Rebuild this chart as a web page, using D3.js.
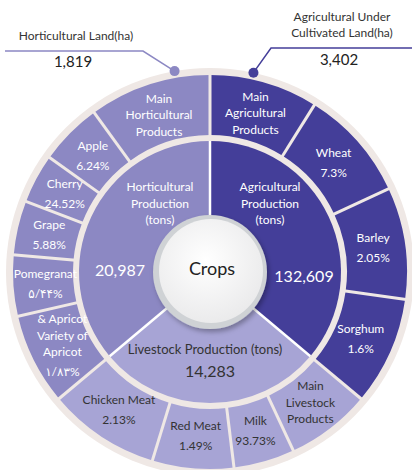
<!DOCTYPE html>
<html>
<head>
<meta charset="utf-8">
<script src="https://cdn.jsdelivr.net/npm/d3@7"></script>
<style>
  body { margin: 0; background: #fff; }
  svg { display: block; font-family: Lato, "DejaVu Sans", sans-serif; }
</style>
</head>
<body>
<div id="vis"></div>
<script>
// ---- data ----
// outer ring, clockwise from 12 o'clock
const OUTER_NAMES = [
  ["Main", "Agricultural", "Products"], ["Wheat"], ["Barley"], ["Sorghum"],
  ["Main", "Livestock", "Products"], ["Milk"], ["Red Meat"], ["Chicken Meat"],
  ["& Apricot", "Variety of", "Apricot"], ["Pomegranat"], ["Grape"], ["Cherry"], ["Apple"],
  ["Main", "Horticultural", "Products"]
];
const OUTER_PCT = ["", "7.3%", "2.05%", "1.6%", "", "93.73%", "1.49%", "2.13%",
                   "۱/۸۳%", "۵/۴۴%", "5.88%", "24.52%", "6.24%", ""];
const OUTER_GROUP = ["agri", "agri", "agri", "agri", "live", "live", "live", "live",
                     "hort", "hort", "hort", "hort", "hort", "hort"];
// angular share of each slice (degrees)
const OUTER_SPAN = [32, 33, 33, 32, 25, 18, 24, 33, 27, 18, 16, 14.5, 18.5, 36];

// inner ring
const INNER_KEYS = ["agri", "live", "hort"];
const INNER_TITLES = [["Agricultural", "Production", "(tons)"],
                      ["Livestock Production (tons)"],
                      ["Horticultural", "Production", "(tons)"]];
const INNER_VALUES = ["132,609", "14,283", "20,987"];
const INNER_SPAN = [130, 100, 130];

// land callouts
const LAND_TITLES = [["Horticultural Land(ha)"], ["Agricultural Under", "Cultivated Land(ha)"]];
const LAND_VALUES = ["1,819", "3,402"];
const LAND_KEYS = ["hort", "agri"];

// ---- layout ----
const WIDTH = 412, HEIGHT = 470;
const CX = 210, CY = 272;
const R = {hub: 50, innerOut: 131, outerIn: 137, outerOut: 197, rim: 204, label: 165};
const COLORS = {agri: "#443e99", hort: "#8c88c3", live: "#a7a4d5"};
const TEXT = {agri: "#ffffff", hort: "#ffffff", live: "#333333"};
const BEIGE = "#efe8e5";

const svg = d3.select("#vis").append("svg")
  .attr("width", WIDTH).attr("height", HEIGHT);

const defs = svg.append("defs");
const grad = defs.append("radialGradient").attr("id", "hubGrad")
  .attr("cx", "45%").attr("cy", "40%").attr("r", "65%");
grad.append("stop").attr("offset", "0%").attr("stop-color", "#ffffff");
grad.append("stop").attr("offset", "100%").attr("stop-color", "#e9e9ea");
const shadow = defs.append("filter").attr("id", "hubShadow")
  .attr("x", "-30%").attr("y", "-30%").attr("width", "160%").attr("height", "160%");
shadow.append("feDropShadow").attr("dx", 2).attr("dy", 3).attr("stdDeviation", 2.5)
  .attr("flood-color", "#000").attr("flood-opacity", 0.3);

const G = svg.append("g").attr("transform", "translate(" + CX + "," + CY + ")");

// beige backdrop (rim + gap between rings)
G.append("circle").attr("r", R.rim).attr("fill", BEIGE);

const pie = d3.pie().sort(null).value(d => d.span).startAngle(0).endAngle(2 * Math.PI);

const outerData = pie(OUTER_SPAN.map((s, i) => ({
  span: s, names: OUTER_NAMES[i], pct: OUTER_PCT[i], group: OUTER_GROUP[i]
})));
const innerData = pie(INNER_SPAN.map((s, i) => ({
  span: s, key: INNER_KEYS[i], titles: INNER_TITLES[i], value: INNER_VALUES[i]
})));

const outerArc = d3.arc().innerRadius(R.outerIn).outerRadius(R.outerOut);
const innerArc = d3.arc().innerRadius(0).outerRadius(R.innerOut);
const labelArc = d3.arc().innerRadius(R.label).outerRadius(R.label);

// outer slices
G.selectAll("path.outer")
  .data(outerData)
  .enter().append("path")
  .attr("class", "outer")
  .attr("d", outerArc)
  .attr("fill", d => COLORS[d.data.group]);

// outer dividers
const polar = (a, r) => [r * Math.sin(a), -r * Math.cos(a)];
G.selectAll("line.outerDiv")
  .data(outerData)
  .enter().append("line")
  .attr("x1", d => polar(d.startAngle, R.outerIn - 2)[0])
  .attr("y1", d => polar(d.startAngle, R.outerIn - 2)[1])
  .attr("x2", d => polar(d.startAngle, R.outerOut + 1)[0])
  .attr("y2", d => polar(d.startAngle, R.outerOut + 1)[1])
  .attr("stroke", BEIGE).attr("stroke-width", 3);

// inner slices
G.selectAll("path.inner")
  .data(innerData)
  .enter().append("path")
  .attr("class", "inner")
  .attr("d", innerArc)
  .attr("fill", d => COLORS[d.data.key]);

G.selectAll("line.innerDiv")
  .data(innerData)
  .enter().append("line")
  .attr("x1", 0).attr("y1", 0)
  .attr("x2", d => polar(d.startAngle, R.innerOut)[0])
  .attr("y2", d => polar(d.startAngle, R.innerOut)[1])
  .attr("stroke", "#ffffff").attr("stroke-width", 2.5);

// outer labels, centred on the slice centroid
const NAME_LH = 16.5, PCT_GAP = 20;
outerData.forEach(d => {
  const c = labelArc.centroid(d);
  const lines = d.data.names.map((t, i) => ({t: t, dy: i * NAME_LH}));
  if (d.data.pct) lines.push({t: d.data.pct, dy: (d.data.names.length - 1) * NAME_LH + PCT_GAP});
  const total = lines[lines.length - 1].dy;
  G.append("text")
    .attr("text-anchor", "middle")
    .attr("font-size", 12)
    .attr("fill", TEXT[d.data.group])
    .selectAll("tspan")
    .data(lines)
    .enter().append("tspan")
    .attr("x", c[0])
    .attr("y", l => c[1] - total / 2 + l.dy + 4)
    .text(l => l.t);
});

// inner labels (title block + value)
const INNER_POS = {
  agri: {title: [60, -81], value: [94, 10]},
  hort: {title: [-50, -81], value: [-90, 4]},
  live: {title: [-5, 82], value: [0, 105]}
};
innerData.forEach(d => {
  const p = INNER_POS[d.data.key];
  G.append("text")
    .attr("text-anchor", "middle")
    .attr("font-size", d.data.key === "live" ? 13 : 12)
    .attr("fill", TEXT[d.data.key])
    .selectAll("tspan")
    .data(d.data.titles)
    .enter().append("tspan")
    .attr("x", p.title[0])
    .attr("y", (t, i) => p.title[1] + i * 16.5)
    .text(t => t);
  G.append("text")
    .attr("x", p.value[0]).attr("y", p.value[1])
    .attr("text-anchor", "middle")
    .attr("font-size", 16)
    .attr("fill", TEXT[d.data.key])
    .text(d.data.value);
});

// hub
G.append("circle").attr("r", 57).attr("fill", "#cfd2d5").attr("filter", "url(#hubShadow)");
G.append("circle").attr("cx", 1).attr("cy", -1).attr("r", 52).attr("fill", "url(#hubGrad)");
G.append("text").attr("x", 2).attr("y", -2)
  .attr("text-anchor", "middle").attr("dominant-baseline", "middle")
  .attr("font-size", 18).attr("fill", "#222").text("Crops");

// land callouts
const CALLOUT = {
  hort: {angle: -10, tx: 76, ty: [40], vy: 67, line: [[5, 51], [143, 51]]},
  agri: {angle: 12.3, tx: 342, ty: [21, 37], vy: 65, line: [[412, 48], [271, 48]]}
};
LAND_KEYS.forEach((k, i) => {
  const c = CALLOUT[k];
  const dot = polar(c.angle * Math.PI / 180, R.rim);
  const pts = c.line.concat([[CX + dot[0], CY + dot[1]]]);
  svg.append("path")
    .attr("d", d3.line()(pts))
    .attr("fill", "none").attr("stroke", COLORS[k]).attr("stroke-width", 1.5);
  svg.append("circle").attr("cx", CX + dot[0]).attr("cy", CY + dot[1]).attr("r", 5)
    .attr("fill", COLORS[k]);
  svg.append("text")
    .attr("text-anchor", "middle").attr("font-size", 12).attr("fill", "#333")
    .selectAll("tspan")
    .data(LAND_TITLES[i])
    .enter().append("tspan")
    .attr("x", c.tx).attr("y", (t, j) => c.ty[j])
    .text(t => t);
  svg.append("text")
    .attr("x", c.tx - 3).attr("y", c.vy)
    .attr("text-anchor", "middle").attr("font-size", 15).attr("fill", "#222")
    .text(LAND_VALUES[i]);
});
</script>
</body>
</html>
